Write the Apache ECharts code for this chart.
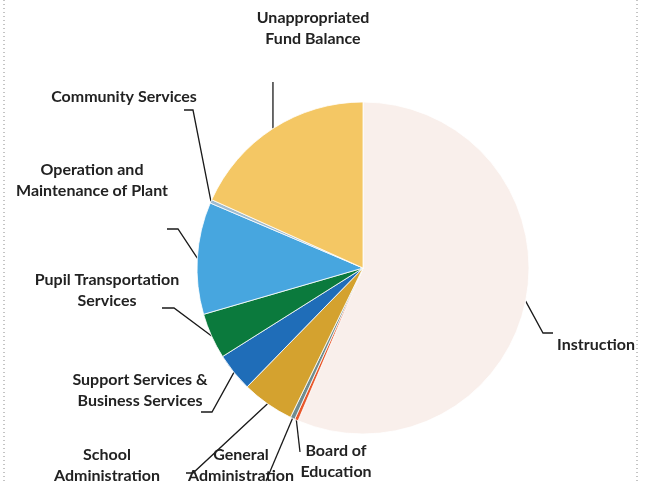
<!DOCTYPE html>
<html>
<head>
<meta charset="utf-8">
<script src="https://cdn.jsdelivr.net/npm/echarts@6/dist/echarts.min.js"></script>
<style>
  html, body { margin: 0; padding: 0; background: #ffffff; }
  #chart { width: 647px; height: 482px; }
</style>
</head>
<body>
<div id="chart"></div>
<script>
// Budget share by function (percent of total), clockwise from 12 o'clock
const categories = [
  'Instruction',
  'Board of\nEducation',
  'General\nAdministration',
  'School\nAdministration',
  'Support Services &\nBusiness Services',
  'Pupil Transportation\nServices',
  'Operation and\nMaintenance of Plant',
  'Community Services',
  'Unappropriated\nFund Balance'
];
const shares = [56.4, 0.35, 0.45, 5.1, 3.75, 4.45, 10.9, 0.35, 18.25];
const sliceColors = [
  '#f9efeb', '#e8582b', '#6f8c8f', '#d4a22f', '#1f6db8',
  '#0b7a3d', '#47a6df', '#9fbcd0', '#f4c764'
];

// Label anchor (text block centre) and leader-line shape for each slice.
const labelSpots = [
  { x: 596, y: 345, bend: [[543, 333], [553, 333]] },
  { x: 336, y: 461, bend: [[300, 452]] },
  { x: 241, y: 465, bend: [[266, 481]] },
  { x: 107, y: 465, bend: [[193, 473], [186, 473]] },
  { x: 140, y: 390, bend: [[212, 412], [201, 412]] },
  { x: 107, y: 290, bend: [[174, 308], [162, 308]] },
  { x: 92,  y: 180, bend: [[178, 229], [167, 229]] },
  { x: 124, y: 97,  bend: [[193, 110], [184, 110]] },
  { x: 313, y: 28,  bend: null }
];

const chart = echarts.init(document.getElementById('chart'), null, { renderer: 'canvas' });

chart.setOption({
  backgroundColor: '#ffffff',
  animation: false,
  graphic: [
    {
      type: 'line', silent: true,
      shape: { x1: 4, y1: 0, x2: 4, y2: 482 },
      style: { stroke: '#8a8a8a', lineWidth: 1, lineDash: [1, 3] }
    },
    {
      type: 'line', silent: true,
      shape: { x1: 637, y1: 0, x2: 637, y2: 482 },
      style: { stroke: '#8a8a8a', lineWidth: 1, lineDash: [1, 3] }
    }
  ],
  series: [{
    type: 'pie',
    center: [363, 268],
    radius: 166,
    startAngle: 90,
    clockwise: true,
    avoidLabelOverlap: false,
    minShowLabelAngle: 0,
    itemStyle: { borderColor: '#ffffff', borderWidth: 0.8 },
    label: {
      show: true,
      position: 'outside',
      fontFamily: 'Lato, "Open Sans", sans-serif',
      fontWeight: 'bold',
      fontSize: 16,
      lineHeight: 21,
      color: '#222222',
      align: 'center'
    },
    labelLine: {
      show: true,
      length: 10,
      length2: 10,
      smooth: false,
      lineStyle: { color: '#1a1a1a', width: 1.3 }
    },
    labelLayout: function (params) {
      const spot = labelSpots[params.dataIndex];
      const start = params.labelLinePoints ? params.labelLinePoints[0] : null;
      const out = {
        x: spot.x,
        y: spot.y,
        align: 'center',
        verticalAlign: 'middle'
      };
      if (start) {
        if (spot.bend) {
          out.labelLinePoints = [start].concat(spot.bend);
        } else {
          out.labelLinePoints = [start, [start[0], 82]];
        }
      }
      return out;
    },
    data: categories.map(function (name, i) {
      return { name: name, value: shares[i], itemStyle: { color: sliceColors[i] } };
    })
  }]
});
</script>
</body>
</html>
